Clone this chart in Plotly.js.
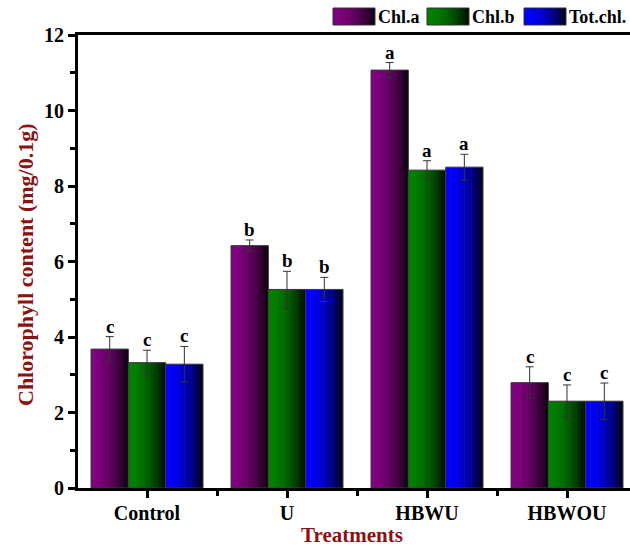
<!DOCTYPE html>
<html>
<head>
<meta charset="utf-8">
<script src="https://cdn.plot.ly/plotly-3.0.1.min.js"></script>
<style>html,body{margin:0;padding:0;background:#fff;}#chart{width:630px;height:548px;}</style>
</head>
<body>
<div id="chart"></div>
<script>
// ---- data ----
const categories = ['Control', 'U', 'HBWU', 'HBWOU'];
const seriesNames = ['Chl.a', 'Chl.b', 'Tot.chl.'];
const chlA = [3.68, 6.42, 11.07, 2.79];
const chlAErr = [0.33, 0.15, 0.20, 0.42];
const chlB = [3.32, 5.26, 8.42, 2.30];
const chlBErr = [0.33, 0.48, 0.25, 0.43];
const totChl = [3.28, 5.26, 8.50, 2.30];
const totChlErr = [0.47, 0.32, 0.34, 0.48];
const chlALetters = ['c', 'b', 'a', 'c'];
const chlBLetters = ['c', 'b', 'a', 'c'];
const totChlLetters = ['c', 'b', 'a', 'c'];
const yTicks = [0, 2, 4, 6, 8, 10, 12];
const xTitle = 'Treatments';
const yTitle = 'Chlorophyll content (mg/0.1g)';

// ---- styling ----
const baseColors = [[128, 0, 128], [0, 128, 0], [0, 0, 255]];
const values = [chlA, chlB, totChl];
const errs = [chlAErr, chlBErr, totChlErr];
const letters = [chlALetters, chlBLetters, totChlLetters];
const FONT = 'Liberation Serif, Times New Roman, serif';
const TITLE_COLOR = '#8b1212';
const K = 16;
const groupW = 0.8;
const bw = groupW / 3;
const xIdx = categories.map((c, i) => i);

function shade(rgb, t) {
  const f = 1 - 0.93 * Math.pow(t, 1.9);
  return 'rgb(' + rgb.map(v => Math.round(v * f)).join(',') + ')';
}

const traces = [];
const annotations = [];
values.forEach((vals, s) => {
  const left = -groupW / 2 + s * bw;
  const sw = bw / K;
  for (let k = 0; k < K; k++) {
    traces.push({
      type: 'bar', x: xIdx, y: vals,
      offset: left + k * sw,
      width: k < K - 1 ? sw * 1.25 : sw,
      marker: {color: shade(baseColors[s], (k + 0.5) / K), line: {width: 0}},
      showlegend: false, hoverinfo: 'skip'
    });
  }
  traces.push({
    type: 'bar', x: xIdx, y: vals, name: seriesNames[s],
    offset: left, width: bw,
    marker: {color: 'rgba(0,0,0,0)', line: {color: '#3a3a3a', width: 1}},
    error_y: {type: 'data', array: errs[s], visible: true, color: '#333', thickness: 1, width: 4},
    showlegend: false
  });
  vals.forEach((v, i) => {
    annotations.push({
      x: i + left + bw / 2, y: v + errs[s][i], xref: 'x', yref: 'y',
      text: letters[s][i], showarrow: false, yanchor: 'bottom', yshift: -2,
      font: {family: FONT, size: 19, color: '#000', weight: 'bold'}
    });
  });
});

// pixel -> paper helpers
const L = 78, R = 630, T = 35, B = 488;
const px = v => (v - L) / (R - L);
const py = v => (B - v) / (B - T);

// axis titles
annotations.push({
  xref: 'paper', yref: 'paper', x: px(352), y: py(548), xanchor: 'center', yanchor: 'bottom',
  showarrow: false, text: xTitle, borderpad: 0,
  font: {family: FONT, size: 21, color: TITLE_COLOR, weight: 'bold'}
});
annotations.push({
  xref: 'paper', yref: 'paper', x: px(25), y: py(265), xanchor: 'center', yanchor: 'middle',
  showarrow: false, text: yTitle, textangle: -90, borderpad: 0,
  font: {family: FONT, size: 22, color: TITLE_COLOR, weight: 'bold'}
});

// legend drawn in pixel space
const shapes = [];
const legendX = [333, 427, 524];
const swW = 42, swTop = 8, swBot = 25;
seriesNames.forEach((n, s) => {
  const x0 = legendX[s];
  const M = 14;
  for (let k = 0; k < M; k++) {
    shapes.push({
      type: 'rect', xref: 'paper', yref: 'paper',
      x0: px(x0 + k * swW / M), x1: px(x0 + (k + 1) * swW / M + (k < M - 1 ? 0.6 : 0)),
      y0: py(swBot), y1: py(swTop),
      fillcolor: shade(baseColors[s], (k + 0.5) / M), line: {width: 0}, layer: 'above'
    });
  }
  shapes.push({
    type: 'rect', xref: 'paper', yref: 'paper',
    x0: px(x0), x1: px(x0 + swW), y0: py(swBot), y1: py(swTop),
    fillcolor: 'rgba(0,0,0,0)', line: {color: '#333', width: 1}, layer: 'above'
  });
  annotations.push({
    xref: 'paper', yref: 'paper', x: px(x0 + swW + 2), y: py((swTop + swBot) / 2 + 1),
    xanchor: 'left', yanchor: 'middle', showarrow: false, text: n, borderpad: 0,
    font: {family: FONT, size: 18, color: '#000', weight: 'bold'}
  });
});

const layout = {
  width: 630, height: 548,
  margin: {l: L, r: 630 - R, t: T, b: 548 - B, pad: 0},
  paper_bgcolor: '#fff', plot_bgcolor: '#fff',
  barmode: 'overlay',
  showlegend: false,
  xaxis: {
    range: [-0.493, 3.45], tickmode: 'array', tickvals: xIdx, ticktext: categories,
    showgrid: false, zeroline: false, showline: true, linecolor: '#000', linewidth: 3,
    mirror: true, ticks: 'outside', ticklen: 7, tickwidth: 3, tickcolor: '#000',
    ticklabelstandoff: -2,
    minor: {tickmode: 'array', tickvals: [0.5, 1.5, 2.5], ticks: 'outside', ticklen: 5, tickwidth: 3, tickcolor: '#000'},
    tickfont: {family: FONT, size: 20, color: '#000', weight: 'bold'}
  },
  yaxis: {
    range: [0, 12], tickmode: 'array', tickvals: yTicks,
    showgrid: false, zeroline: false, showline: true, linecolor: '#000', linewidth: 3,
    ticks: 'outside', ticklen: 7, tickwidth: 3, tickcolor: '#000',
    minor: {dtick: 1, ticks: 'outside', ticklen: 5, tickwidth: 3, tickcolor: '#000'},
    tickfont: {family: FONT, size: 20, color: '#000', weight: 'bold'}
  },
  shapes: shapes,
  annotations: annotations
};

Plotly.newPlot('chart', traces, layout, {displayModeBar: false, staticPlot: true});
</script>
</body>
</html>
